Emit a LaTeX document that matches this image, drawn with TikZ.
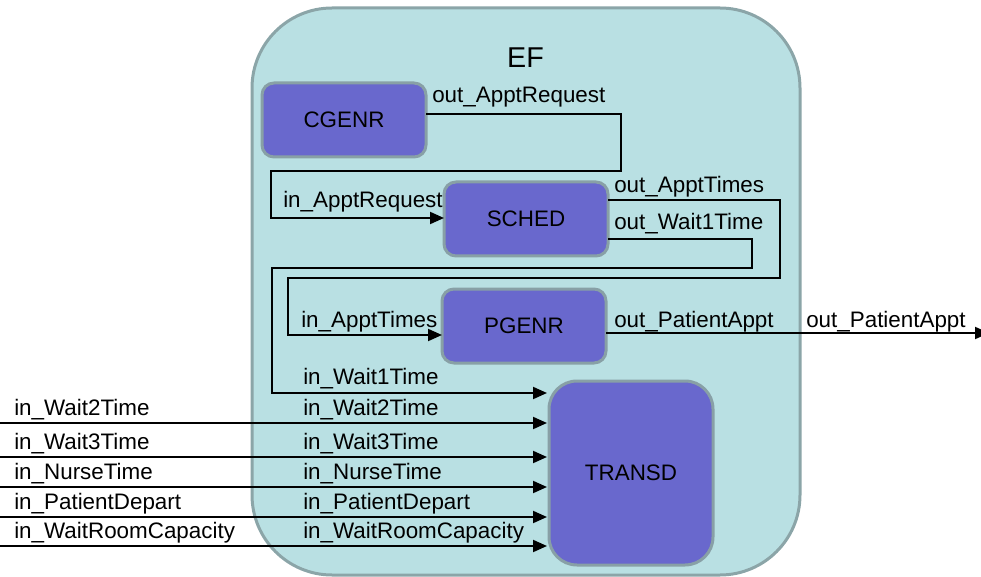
\documentclass[tikz,border=0pt]{standalone}
\usepackage{fontspec}
\setmainfont{Liberation Sans}
\usetikzlibrary{arrows.meta}
\definecolor{efFill}{RGB}{185,224,227}
\definecolor{efLine}{RGB}{139,165,168}
\definecolor{blkFill}{RGB}{105,104,205}
\definecolor{blkLine}{RGB}{136,160,166}
\tikzset{
  lbl/.style={anchor=base west, inner sep=0pt, font=\fontsize{16.8}{20}\selectfont},
  blk/.style={draw=blkLine, fill=blkFill, line width=2.25pt, rounded corners=9pt,
    inner sep=0pt, outer sep=0pt, minimum width=123pt, minimum height=55.5pt,
    font=\fontsize{16.8}{20}\selectfont},
  wire/.style={line width=1.5pt, black},
  arr/.style={wire, -{Triangle[length=10.5pt, width=9pt]}}
}
\begin{document}
\begin{tikzpicture}[x=0.75pt, y=-0.75pt]
\useasboundingbox (0,0) rectangle (981,577);
% coupled model container
\node[draw=efLine, fill=efFill, line width=2.25pt, rounded corners=60pt,
      minimum width=411pt, minimum height=425.25pt, inner sep=0pt, outer sep=0pt] (ef) at (526,291.5) {};
\node[anchor=base, inner sep=0pt, font=\fontsize{21.5}{24}\selectfont] (eflabel) at (525.5,68) {EF};
% atomic models
\node[blk] (cgenr) at (344,120) {CGENR};
\node[blk] (sched) at (526,219) {SCHED};
\node[blk] (pgenr) at (524,326) {PGENR};
\node[blk, rounded corners=21pt, minimum height=138pt] (transd) at (631,473) {TRANSD};
% free ends of external ports
\coordinate (xw2) at (0,423);
\coordinate (xw3) at (0,457);
\coordinate (xnt) at (0,487);
\coordinate (xpd) at (0,517);
\coordinate (xwr) at (0,546);
\coordinate (xpa) at (989,333);
% internal couplings
\draw[arr] (cgenr.east |- 0,114) -| (621,171) -| (271,218) -- (sched.west |- 0,218);
\draw[arr] (sched.east |- 0,200) -| (780,278) -| (288,335) -- (pgenr.west |- 0,335);
\draw[arr] (sched.east |- 0,239) -| (752,268) -| (272,393) -- ([xshift=-1.5pt]transd.west |- 0,393);
% external input couplings
\draw[arr] (xw2) -- ([xshift=-1.5pt]transd.west |- xw2);
\draw[arr] (xw3) -- ([xshift=-1.5pt]transd.west |- xw3);
\draw[arr] (xnt) -- ([xshift=-1.5pt]transd.west |- xnt);
\draw[arr] (xpd) -- ([xshift=-1.5pt]transd.west |- xpd);
\draw[arr] (xwr) -- ([xshift=-1.5pt]transd.west |- xwr);
% external output coupling
\draw[arr] (pgenr.east |- xpa) -- (xpa);
% port labels
\node[lbl] (l1) at (432,103) {out\_ApptRequest};
\node[lbl] (l2) at (283,208) {in\_ApptRequest};
\node[lbl] (l3) at (614,193) {out\_ApptTimes};
\node[lbl] (l4) at (614,230) {out\_Wait1Time};
\node[lbl] (l5) at (301,327) {in\_ApptTimes};
\node[lbl] (l6) at (614,327) {out\_PatientAppt};
\node[lbl] (l7) at (806,327) {out\_PatientAppt};
\node[lbl] (l8) at (303,384) {in\_Wait1Time};
\node[lbl] (l9) at (303,415) {in\_Wait2Time};
\node[lbl] (l10) at (303,449) {in\_Wait3Time};
\node[lbl] (l11) at (303,479) {in\_NurseTime};
\node[lbl] (l12) at (303,509) {in\_PatientDepart};
\node[lbl] (l13) at (303,538) {in\_WaitRoomCapacity};
\node[lbl] (r9) at (14,415) {in\_Wait2Time};
\node[lbl] (r10) at (14,449) {in\_Wait3Time};
\node[lbl] (r11) at (14,479) {in\_NurseTime};
\node[lbl] (r12) at (14,509) {in\_PatientDepart};
\node[lbl] (r13) at (14,538) {in\_WaitRoomCapacity};
\end{tikzpicture}
\end{document}
